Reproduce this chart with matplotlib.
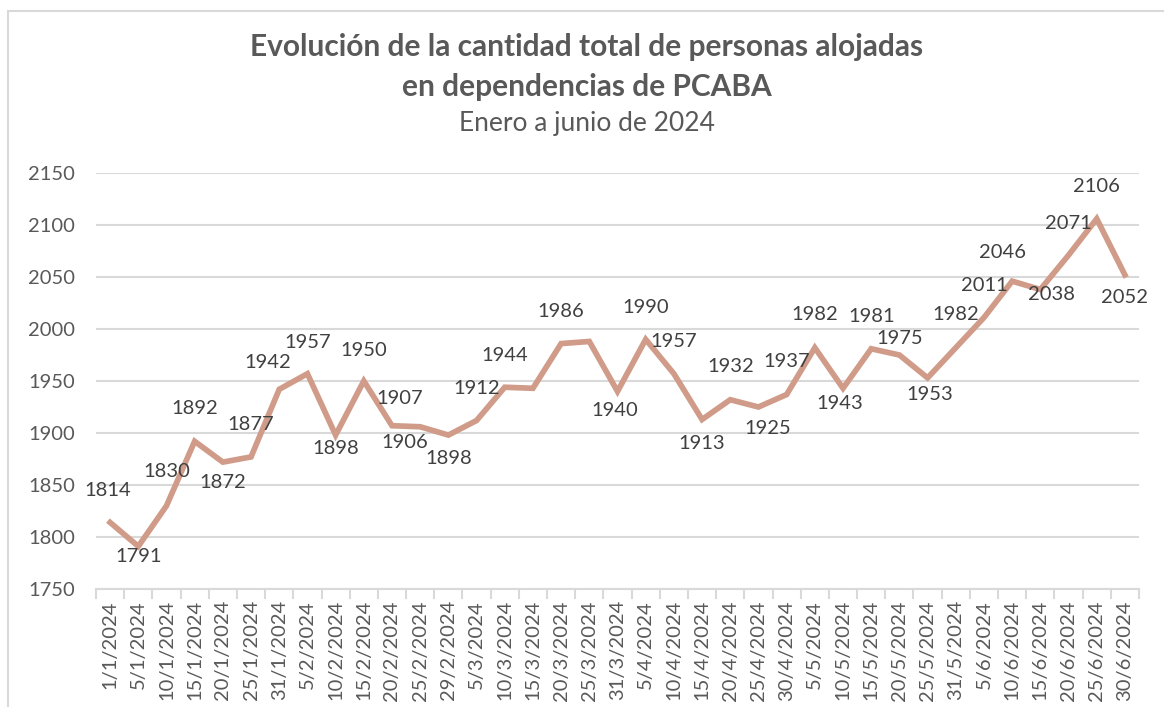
import matplotlib
matplotlib.use('Agg')
import matplotlib.pyplot as plt
from matplotlib.patches import Rectangle

plt.rcParams['font.family'] = ['Lato', 'DejaVu Sans']

# data
fechas = ['1/1/2024', '5/1/2024', '10/1/2024', '15/1/2024', '20/1/2024', '25/1/2024',
          '31/1/2024', '5/2/2024', '10/2/2024', '15/2/2024', '20/2/2024', '25/2/2024',
          '29/2/2024', '5/3/2024', '10/3/2024', '15/3/2024', '20/3/2024', '25/3/2024',
          '31/3/2024', '5/4/2024', '10/4/2024', '15/4/2024', '20/4/2024', '25/4/2024',
          '30/4/2024', '5/5/2024', '10/5/2024', '15/5/2024', '20/5/2024', '25/5/2024',
          '31/5/2024', '5/6/2024', '10/6/2024', '15/6/2024', '20/6/2024', '25/6/2024',
          '30/6/2024']
personas = [1814, 1791, 1830, 1892, 1872, 1877, 1942, 1957, 1898, 1950, 1907, 1906,
            1898, 1912, 1944, 1943, 1986, 1988, 1940, 1990, 1957, 1913, 1932, 1925,
            1937, 1982, 1943, 1981, 1975, 1953, 1982, 2011, 2046, 2038, 2071, 2106,
            2052]
# which points carry a data label (15/3 and 25/3 have none)
con_etiqueta = [True] * len(personas)
con_etiqueta[15] = False
con_etiqueta[17] = False

# label offsets in pixels (dx, dy), dy positive = up
offsets = [(-2, 32), (0, -10), (0, 34), (0, 33), (0, -20), (0, 32),
           (-11, 27), (0, 31), (0, -13), (0, 31), (8, 27), (-15, -16),
           (0, -23), (0, 32), (0, 32), (0, 0), (0, 32), (0, 0),
           (-3, -19), (0, 32), (0, 32), (0, -24), (0, 33), (9, -22),
           (0, 33), (0, 33), (-3, -15), (0, 32), (0, 16), (2, -17),
           (0, 33), (0, 32), (-10, 29), (11, -5), (0, 32), (0, 32),
           (0, -23)]

gris = '#595959'
color_linea = '#D09C89'

fig = plt.figure(figsize=(11.64, 7.07), dpi=100)
ax = fig.add_axes([96 / 1164, 1 - 589 / 707, (1139 - 96) / 1164, (589 - 173) / 707])

x = list(range(len(personas)))
ax.plot(x, personas, color=color_linea, lw=4.1, solid_joinstyle='miter', zorder=3)

for i, v in enumerate(personas):
    if not con_etiqueta[i]:
        continue
    dx, dy = offsets[i]
    ax.annotate(str(v), (i, v), xytext=(dx, dy), textcoords='offset pixels',
                ha='center', va='center', fontsize=14.5, color='#404040', zorder=4)

ax.set_xlim(-0.5, len(personas) - 0.5)
ax.set_ylim(1750, 2150)
ax.set_yticks(range(1750, 2151, 50))
ax.yaxis.grid(True, color='#D9D9D9', lw=1.5)
ax.set_axisbelow(True)

ax.set_xticks(x)
ax.set_xticklabels(fechas, rotation=90, fontsize=14.5, color=gris)
ax.set_xticks([i - 0.5 for i in range(len(personas) + 1)], minor=True)
ax.tick_params(axis='x', which='major', length=0, pad=8)
ax.tick_params(axis='x', which='minor', length=7, color='#D9D9D9', width=1.5)
ax.tick_params(axis='y', length=0, pad=15, labelsize=14.5, labelcolor=gris)

for s in ['top', 'right', 'left']:
    ax.spines[s].set_visible(False)
ax.spines['bottom'].set_color('#D9D9D9')
ax.spines['bottom'].set_linewidth(1.5)

fig.text(587 / 1164, 1 - 47 / 707, 'Evolución de la cantidad total de personas alojadas',
         ha='center', va='center', fontsize=21.5, fontweight='bold', color=gris)
fig.text(587 / 1164, 1 - 87 / 707, 'en dependencias de PCABA',
         ha='center', va='center', fontsize=21.5, fontweight='bold', color=gris)
fig.text(587 / 1164, 1 - 124 / 707, 'Enero a junio de 2024',
         ha='center', va='center', fontsize=19, color=gris)

# outer chart frame
fig.patches.append(Rectangle((8 / 1164, -0.05), 1.2, 1 - 11 / 707 + 0.05,
                             transform=fig.transFigure, fill=False,
                             edgecolor='#D9D9D9', lw=1.5))

fig.savefig('out.png', dpi=100)
